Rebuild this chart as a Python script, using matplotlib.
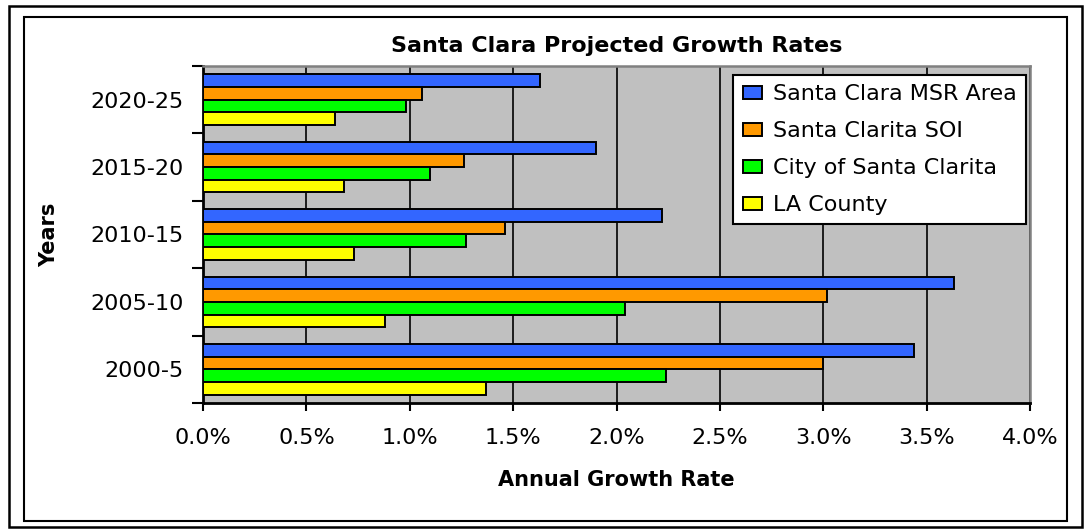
import matplotlib.pyplot as plt
import numpy as np
from matplotlib.patches import Rectangle
from matplotlib.ticker import PercentFormatter, MultipleLocator

# Santa Clara projected annual growth rates (percent)
years = ['2000-5', '2005-10', '2010-15', '2015-20', '2020-25']
msr_area = [3.44, 3.63, 2.22, 1.90, 1.63]
clarita_soi = [3.00, 3.02, 1.46, 1.26, 1.06]
city_clarita = [2.24, 2.04, 1.27, 1.10, 0.98]
la_county = [1.37, 0.88, 0.73, 0.68, 0.64]

series = [
    ('Santa Clara MSR Area', msr_area, '#3366FF'),
    ('Santa Clarita SOI', clarita_soi, '#FF9900'),
    ('City of Santa Clarita', city_clarita, '#00FF00'),
    ('LA County', la_county, '#FFFF00'),
]

plt.rcParams['font.family'] = 'DejaVu Sans'

W, H = 1089, 529
fig = plt.figure(figsize=(W / 100, H / 100), dpi=100)
fig.patch.set_facecolor('white')

# double border round the chart
fig.add_artist(Rectangle((9 / W, 1 - 527 / H), 1073 / W, 521 / H, transform=fig.transFigure,
                         fill=False, edgecolor='black', linewidth=1.8))
fig.add_artist(Rectangle((24 / W, 1 - 521 / H), 1043 / W, 504 / H, transform=fig.transFigure,
                         fill=False, edgecolor='black', linewidth=1.5))

ax = fig.add_axes([203 / W, 1 - 403 / H, 827 / W, 337 / H])
ax.set_facecolor('#C0C0C0')

y = np.arange(len(years))
h = 0.1875
offsets = [1.5 * h, 0.5 * h, -0.5 * h, -1.5 * h]
for (name, vals, col), off in zip(series, offsets):
    ax.barh(y + off, vals, height=h, color=col, edgecolor='black', linewidth=1.4,
            label=name, zorder=3)

ax.set_xlim(0, 4.0)
ax.set_ylim(-0.5, len(years) - 0.5)
ax.xaxis.set_major_locator(MultipleLocator(0.5))
ax.xaxis.set_major_formatter(PercentFormatter(xmax=100, decimals=1))
ax.grid(axis='x', color='black', linewidth=1.2, zorder=1)
ax.set_axisbelow(True)

ax.set_yticks(y)
ax.set_yticklabels(years)
ax.set_yticks(np.arange(-0.5, len(years)), minor=True)
ax.tick_params(axis='y', which='major', length=0, pad=14, labelsize=16)
ax.tick_params(axis='y', which='minor', length=8, width=1.5, direction='out')
ax.tick_params(axis='x', length=6, width=1.5, direction='out', pad=12, labelsize=16)

for s in ['top', 'right']:
    ax.spines[s].set_color('#808080')
    ax.spines[s].set_linewidth(1.8)
for s in ['left', 'bottom']:
    ax.spines[s].set_color('black')
    ax.spines[s].set_linewidth(2)

ax.set_xlabel('Annual Growth Rate', fontsize=15, fontweight='bold', labelpad=16)
ax.set_ylabel('Years', fontsize=15, fontweight='bold', labelpad=22)
ax.set_title('Santa Clara Projected Growth Rates', fontsize=16, fontweight='bold', pad=10)

leg = ax.legend(loc='upper right', bbox_to_anchor=(0.995, 0.973), borderaxespad=0,
                fontsize=16, fancybox=False, framealpha=1, edgecolor='black',
                handlelength=0.85, handleheight=0.55, handletextpad=0.5,
                labelspacing=0.76, borderpad=0.42)
leg.get_frame().set_linewidth(1.5)
leg.set_zorder(5)

plt.savefig('out.png', dpi=100)
